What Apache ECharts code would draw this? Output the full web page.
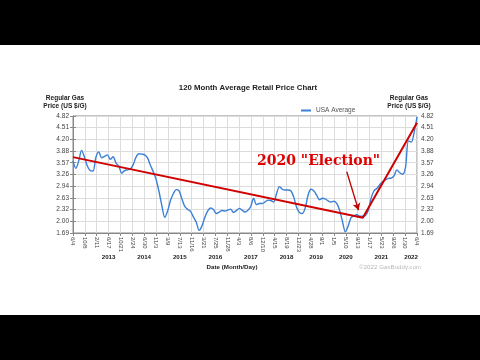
<!DOCTYPE html>
<html><head><meta charset="utf-8">
<script src="https://cdn.jsdelivr.net/npm/echarts@6/dist/echarts.min.js"></script>
<style>
html,body{margin:0;padding:0;background:#000;}
#c{width:480px;height:360px;background:linear-gradient(#000 0,#000 45px,#fff 45px,#fff 315px,#000 315px,#000 360px);}
</style>
</head><body><div id="c"></div>
<script>
// Monthly USA average regular gas price, starting June 2012 (month 0) to June 2022 (month 120)
const startYear = 2012;
const prices = [
 3.62,3.42,3.62,3.90,3.72,3.48,3.36,3.35,3.72,3.86,3.70,3.74,
 3.78,3.66,3.73,3.56,3.48,3.29,3.36,3.38,3.40,3.52,3.72,3.81,
 3.80,3.78,3.70,3.50,3.33,3.12,2.80,2.42,2.11,2.28,2.56,2.74,
 2.85,2.82,2.60,2.40,2.32,2.27,2.12,1.98,1.76,1.88,2.11,2.28,
 2.36,2.32,2.21,2.25,2.29,2.28,2.30,2.33,2.24,2.29,2.35,2.30,
 2.25,2.30,2.40,2.62,2.45,2.48,2.48,2.52,2.57,2.56,2.52,2.74,
 2.93,2.86,2.84,2.84,2.82,2.65,2.38,2.24,2.21,2.36,2.70,2.86,
 2.82,2.70,2.58,2.62,2.60,2.55,2.52,2.54,2.48,2.30,2.00,1.72,
 1.88,2.10,2.15,2.18,2.14,2.14,2.16,2.30,2.62,2.82,2.88,2.98,
 3.07,3.11,3.15,3.16,3.22,3.38,3.30,3.26,3.45,4.15,4.12,4.38,
 4.80
];
const tickLabels = ['6/4','10/8','2/11','6/17','10/21','2/24','6/30','11/3','3/9','7/13','11/16','3/21','7/25','11/28','4/3','8/6','12/10','4/15','8/19','12/23','4/28','9/1','1/5','5/10','9/13','1/17','5/23','9/26','1/30','6/4'];
const yLabels = ['1.69','2.00','2.32','2.63','2.94','3.26','3.57','3.88','4.20','4.51','4.82'];
const yearLabels = ['2013','2014','2015','2016','2017','2018','2019','2020','2021','2022'];
// Red trend annotation (month offset, price)
const trendMonths = [0, 101.1, 120];
const trendPrices = [3.72, 2.10, 4.64];
const arrowFrom = [95.5, 3.33];
const arrowTo = [99.6, 2.30];
const annotationText = '2020 "Election"';

const totalMonths = 120;
const tickVals = tickLabels.map((_, k) => k * totalMonths / (tickLabels.length - 1));
// year of each tick: year increases when month number drops
const tickYears = [];
let yr = startYear, prevM = 0;
tickLabels.forEach(l => { const m = +l.split('/')[0]; if (m < prevM) yr++; prevM = m; tickYears.push(yr); });
const yearVals = yearLabels.map(y => {
  const v = tickVals.filter((_, k) => tickYears[k] === +y);
  return v.reduce((a, b) => a + b, 0) / v.length;
});
const yVals = yLabels.map(Number);

const chart = echarts.init(document.getElementById('c'), null, {renderer: 'canvas'});
const FONT = 'Liberation Sans, Arial, sans-serif';
const yAxisBase = {
  type: 'value', min: 1.69, max: 4.82,
  axisLine: {show: true, lineStyle: {color: '#888', width: 1}},
  axisTick: {show: true, length: 3, customValues: yVals, lineStyle: {color: '#888'}},
  axisLabel: {customValues: yVals, formatter: v => v.toFixed(2), fontSize: 6.5, color: '#444', margin: 4, fontFamily: FONT},
};
chart.setOption({
  animation: false,
  backgroundColor: 'transparent',
  title: {
    text: '120 Month Average Retail Price Chart', left: 243, top: 79, textAlign: 'center',
    textStyle: {fontSize: 7.8, fontWeight: 'bold', color: '#222', fontFamily: FONT}
  },
  legend: {
    data: ['USA Average'], left: 296, top: 102, itemWidth: 10, itemHeight: 2, icon: 'rect',
    textStyle: {fontSize: 6.5, color: '#555', fontFamily: FONT}, itemGap: 4
  },
  grid: {left: 73, right: 63, top: 116, bottom: 127, show: true, borderColor: '#888', borderWidth: 1, outerBoundsMode: 'none', containLabel: false},
  xAxis: [{
    type: 'value', min: 0, max: totalMonths,
    axisLine: {show: true, lineStyle: {color: '#888'}},
    axisTick: {show: true, length: 3, customValues: tickVals, lineStyle: {color: '#888'}},
    axisLabel: {customValues: tickVals, rotate: -90, fontSize: 6, color: '#444', margin: 4, fontFamily: FONT,
      formatter: v => tickLabels[Math.round(v * (tickLabels.length - 1) / totalMonths)]},
    splitLine: {show: true, lineStyle: {color: '#dcdcdc', width: 1}}
  }, {
    type: 'value', min: 0, max: totalMonths, position: 'bottom', offset: 17,
    axisLine: {show: false}, axisTick: {show: false}, splitLine: {show: false},
    axisLabel: {customValues: yearVals, margin: 4, fontSize: 6.2, fontWeight: 'bold', color: '#222', fontFamily: FONT,
      formatter: v => { const i = yearVals.findIndex(y => Math.abs(y - v) < 1e-6); return i >= 0 ? yearLabels[i] : ''; }}
  }],
  yAxis: [
    Object.assign({}, yAxisBase, {position: 'left', splitLine: {show: true, lineStyle: {color: '#dcdcdc', width: 1}}}),
    Object.assign({}, yAxisBase, {position: 'right', splitLine: {show: false}})
  ],
  graphic: [
    {type: 'text', style: {text: 'Regular Gas\nPrice (US $/G)', x: 65, y: 94, textAlign: 'center', font: 'bold 6.5px ' + FONT, fill: '#222', lineHeight: 8}},
    {type: 'text', style: {text: 'Regular Gas\nPrice (US $/G)', x: 409, y: 94, textAlign: 'center', font: 'bold 6.5px ' + FONT, fill: '#222', lineHeight: 8}},
    {type: 'text', style: {text: 'Date (Month/Day)', x: 232, y: 264, textAlign: 'center', font: 'bold 6.2px ' + FONT, fill: '#222'}},
    {type: 'text', style: {text: '\u00a92022 GasBuddy.com', x: 421, y: 264, textAlign: 'right', font: '6.2px ' + FONT, fill: '#b8b8b8'}},
    {type: 'text', z: 100, style: {text: annotationText, x: 257, y: 154, font: 'bold 14px "DejaVu Serif", serif', fill: '#e00000'}}
  ],
  series: [{
    name: 'USA Average', type: 'line', smooth: 0.3, symbol: 'none', xAxisIndex: 0, yAxisIndex: 0,
    lineStyle: {color: '#3b80d6', width: 1.4}, itemStyle: {color: '#3b80d6'},
    data: prices.map((p, i) => [i, p])
  }, {
    name: 'Trend', type: 'line', symbol: 'none', xAxisIndex: 0, yAxisIndex: 0, z: 5,
    lineStyle: {color: '#d00000', width: 2}, itemStyle: {color: '#d00000'},
    data: trendMonths.map((m, i) => [m, trendPrices[i]]),
    markLine: {
      silent: true, symbol: ['none', 'arrow'], symbolSize: [6, 7], animation: false,
      label: {show: false}, lineStyle: {color: '#c00000', width: 1.3, type: 'solid'},
      data: [[{coord: arrowFrom}, {coord: arrowTo}]]
    }
  }]
});
</script>
</body></html>
